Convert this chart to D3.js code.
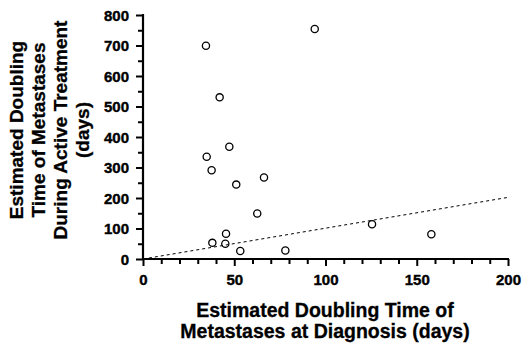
<!DOCTYPE html>
<html>
<head>
<meta charset="utf-8">
<script src="https://cdn.jsdelivr.net/npm/d3@7"></script>
<style>
  body { margin: 0; background: #fff; }
  text { font-family: "Liberation Sans", Arial, sans-serif; font-weight: bold; fill: #000; }
</style>
</head>
<body>
<svg id="chart" width="522" height="346"></svg>
<script>
// Doubling time at diagnosis (x) vs during active treatment (y), days
const diagDays = [34.5, 94.1, 42, 47.3, 34.9, 37.6, 51.1, 66.3, 62.6, 45.5, 38, 45.1, 53.3, 78, 125.5, 158];
const treatDays = [699, 754, 530, 368, 335, 291, 244, 267, 149, 83, 53, 50, 26, 28, 114, 81];
const fitLine = [[0, 0], [200, 202]];
const xTicks = [0, 50, 100, 150, 200];
const yTicks = [0, 100, 200, 300, 400, 500, 600, 700, 800];
const yTitle = ["Estimated Doubling", "Time of Metastases", "During Active Treatment", "(days)"];
const xTitle = ["Estimated Doubling Time of", "Metastases at Diagnosis (days)"];

const svg = d3.select('#chart');

const x = d3.scaleLinear().domain([0, 200]).range([143, 508]);
const y = d3.scaleLinear().domain([0, 800]).range([259, 15]);

// Axes: major ticks labelled, minor ticks drawn separately
const xAxis = svg.append('g').attr('transform', `translate(0,${y(0)})`)
  .call(d3.axisBottom(x).tickValues(d3.range(0, 201, 10))
    .tickSize(6).tickFormat(d => xTicks.includes(d) ? d : ''));
xAxis.selectAll('.tick line').attr('y2', d => xTicks.includes(d) ? 7 : 5);

const yAxis = svg.append('g').attr('transform', `translate(${x(0)},0)`)
  .call(d3.axisLeft(y).tickValues(d3.range(0, 801, 50))
    .tickSize(6).tickFormat(d => yTicks.includes(d) ? d : ''));
yAxis.selectAll('.tick line').attr('x2', d => yTicks.includes(d) ? -7 : -5);

[xAxis, yAxis].forEach(g => {
  g.attr('font-family', null).attr('font-size', null);
  g.select('.domain').attr('stroke', '#000').attr('stroke-width', 2.2);
  g.selectAll('.tick line').attr('stroke', '#000').attr('stroke-width', 2);
  g.selectAll('.tick text')
    .style('font-size', '15px')
    .style('font-weight', 'bold')
    .style('font-family', '"Liberation Sans", Arial, sans-serif')
    .attr('stroke', '#000')
    .attr('stroke-width', 0.4);
});
xAxis.select('.domain').attr('d', `M${x(0) - 1},0H${x(200) + 1}`);
yAxis.select('.domain').attr('d', `M0,${y(800) - 1}V${y(0) + 1}`);
xAxis.selectAll('.tick text').attr('y', 15);
yAxis.selectAll('.tick text').attr('x', -14).attr('dy', '0.36em');

// Dashed regression line
svg.append('path')
  .datum(fitLine)
  .attr('d', d3.line().x(d => x(d[0])).y(d => y(d[1])))
  .attr('fill', 'none')
  .attr('stroke', '#000')
  .attr('stroke-width', 1)
  .attr('stroke-dasharray', '3,3');

// Open circle points
svg.append('g').selectAll('circle')
  .data(diagDays.map((d, i) => [d, treatDays[i]]))
  .join('circle')
  .attr('cx', d => x(d[0]))
  .attr('cy', d => y(d[1]))
  .attr('r', 3.6)
  .attr('fill', 'none')
  .attr('stroke', '#000')
  .attr('stroke-width', 1.3);

// Axis titles
svg.append('text')
  .attr('transform', 'translate(0,130) rotate(-90)')
  .attr('text-anchor', 'middle')
  .attr('stroke', '#000')
  .attr('stroke-width', 0.3)
  .style('font-size', '19px')
  .selectAll('tspan')
  .data(yTitle)
  .join('tspan')
  .attr('x', 0)
  .attr('y', (d, i) => 23 + i * 22)
  .text(d => d);

svg.append('text')
  .attr('text-anchor', 'middle')
  .attr('stroke', '#000')
  .attr('stroke-width', 0.3)
  .style('font-size', '19.5px')
  .selectAll('tspan')
  .data(xTitle)
  .join('tspan')
  .attr('x', 325)
  .attr('y', (d, i) => 316.5 + i * 21.7)
  .text(d => d);
</script>
</body>
</html>
